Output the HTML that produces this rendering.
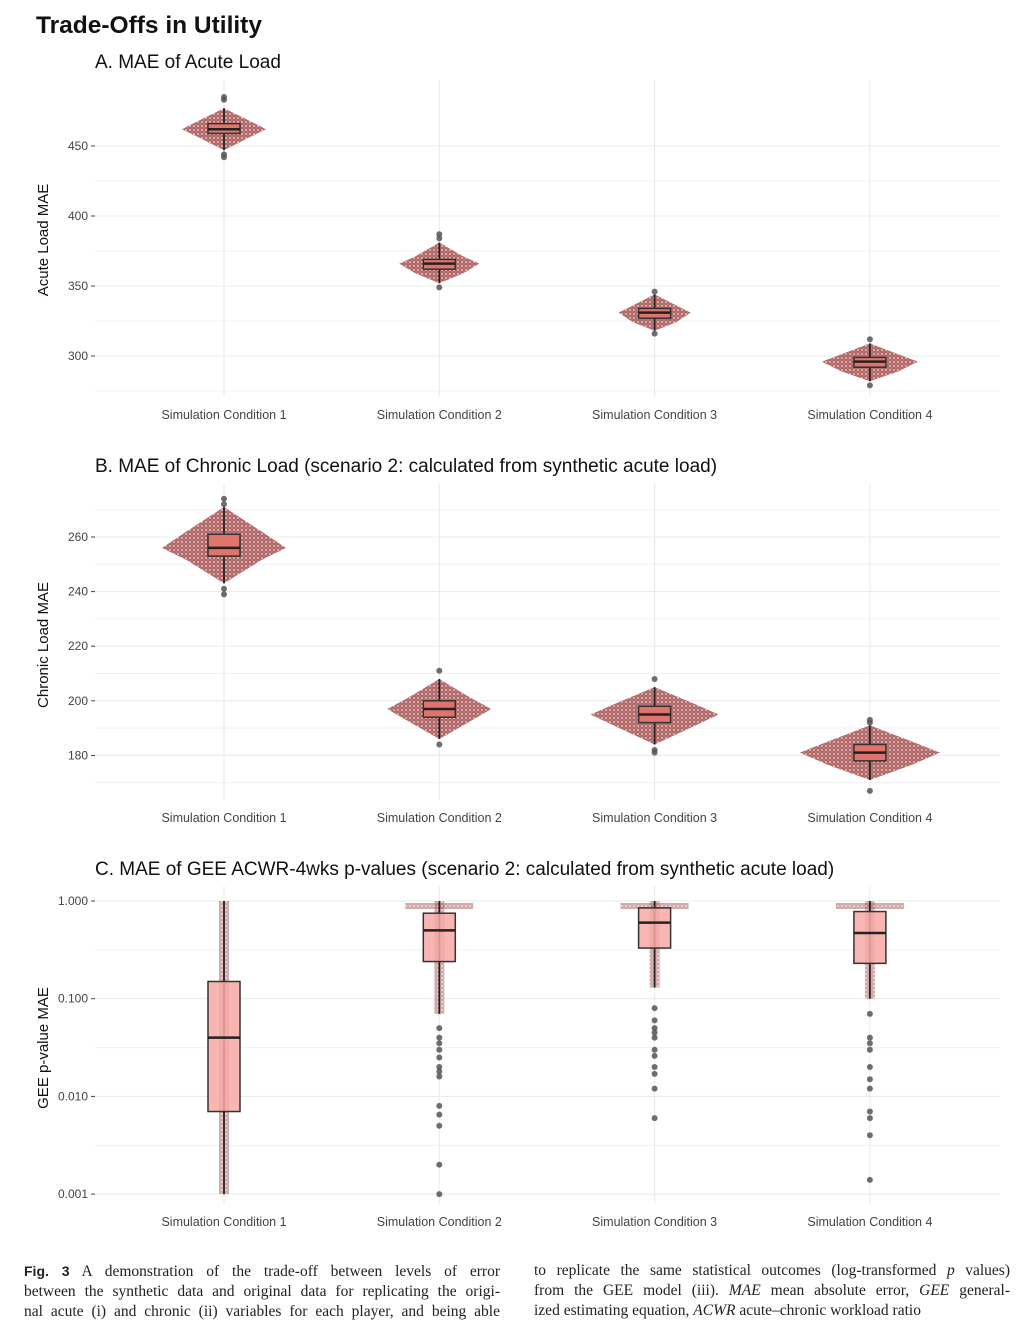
<!DOCTYPE html>
<html><head><meta charset="utf-8">
<style>
body{margin:0;background:#fff;width:1035px;height:1336px;overflow:hidden;font-family:"Liberation Sans",sans-serif}
.cap{position:absolute;font-family:"Liberation Serif",serif;font-size:15.5px;line-height:20px;color:#222}
.cap div{text-align:justify;text-align-last:justify;white-space:nowrap}
</style></head><body>
<svg id="chart" width="1035" height="1250" style="position:absolute;left:0;top:0">
<defs>
<pattern id="dots" width="4" height="4" patternUnits="userSpaceOnUse">
<rect width="4" height="4" fill="#b87070"/>
<circle cx="2" cy="2" r="1.4" fill="#eaaaaa" stroke="#8a4545" stroke-width="0.5"/>
</pattern>
</defs>
<text x="36" y="33" font-size="24.5" font-weight="bold" fill="#111">Trade-Offs in Utility</text>
</svg>
<div class="cap" style="left:24px;top:1261px;width:476px">
<div><b style="font-family:'Liberation Sans',sans-serif;font-size:14px">Fig. 3</b> A demonstration of the trade-off between levels of error</div>
<div>between the synthetic data and original data for replicating the origi-</div>
<div>nal acute (i) and chronic (ii) variables for each player, and being able</div>
</div>
<div class="cap" style="left:534px;top:1261px;width:476px">
<div>to replicate the same statistical outcomes (log-transformed <i>p</i> values)</div>
<div>from the GEE model (iii). <i>MAE</i> mean absolute error, <i>GEE</i> general-</div>
<div style="text-align-last:left">ized estimating equation, <i>ACWR</i> acute–chronic workload ratio</div>
</div>
<script>
const categories=["Simulation Condition 1","Simulation Condition 2","Simulation Condition 3","Simulation Condition 4"];
// Panel A
const aTicks=[300,350,400,450];
const aMed=[462,366,331,296], aQ1=[459,362,327,292], aQ3=[466,369,334,299];
const aLo=[447,352,318,282], aHi=[477,381,344,309];
const aSpread=[42,40,36,48];
const aOut=[[442,444,483,485],[349,384,387],[316,346],[279,312]];
// Panel B
const bTicks=[180,200,220,240,260];
const bMed=[256,197,195,181], bQ1=[253,194,192,178], bQ3=[261,200,198,184];
const bLo=[243,186,184,171], bHi=[271,208,205,191];
const bSpread=[62,52,64,70];
const bOut=[[239,241,272,274],[184,211],[181,182,208],[167,192,193]];
// Panel C (log scale)
const cTicks=[0.001,0.01,0.1,1];
const cTickLabels=["0.001","0.010","0.100","1.000"];
const cMed=[0.04,0.5,0.6,0.47], cQ1=[0.007,0.24,0.33,0.23], cQ3=[0.15,0.75,0.85,0.78];
const cLo=[0.001,0.07,0.13,0.1], cHi=[1,1,1,1];
const cOut=[[],[0.05,0.04,0.035,0.03,0.025,0.02,0.018,0.016,0.008,0.0065,0.005,0.002,0.001],
 [0.08,0.06,0.05,0.045,0.04,0.03,0.026,0.02,0.017,0.012,0.006],
 [0.07,0.04,0.035,0.03,0.02,0.015,0.012,0.007,0.006,0.004,0.0014]];

const svg=document.getElementById('chart');
const NS='http://www.w3.org/2000/svg';
function mk(tag,attrs,parent){const e=document.createElementNS(NS,tag);for(const k in attrs)e.setAttribute(k,attrs[k]);(parent||svg).appendChild(e);return e;}
const X0=95,X1=1000;
const xPos=i=>224+i*215.3;

function panel(o){
  const g=mk('g',{});
  
  
  const t=mk('text',{x:95,y:o.titleY,'font-size':19,fill:'#111'},g);t.textContent=o.title;
  
  
  for(const v of o.minor){const y=o.y(v);const l=mk('line',{x1:X0,x2:X1,y1:y,y2:y,stroke:'#f0f0f0','stroke-width':1},g);
    }
  for(let i=0;i<4;i++){const l=mk('line',{x1:xPos(i),x2:xPos(i),y1:o.top,y2:o.bot,stroke:'#ebebeb','stroke-width':1.1},g);
    }
  o.ticks.forEach((v,k)=>{const y=o.y(v);
    const l=mk('line',{x1:X0,x2:X1,y1:y,y2:y,stroke:'#ebebeb','stroke-width':1.1},g);
    
    mk('line',{x1:91,x2:95,y1:y,y2:y,stroke:'#444'},g);
    const tx=mk('text',{x:88,y:y+4,'font-size':12,fill:'#444','text-anchor':'end'},g);tx.textContent=o.labels?o.labels[k]:v;
    });
  const yt=mk('text',{x:0,y:0,'font-size':15,fill:'#111','text-anchor':'middle',transform:`translate(48,${o.axisMid}) rotate(-90)`},g);
  yt.textContent=o.ytitle;
  categories.forEach((c,i)=>{const tx=mk('text',{x:xPos(i),y:o.bot+22,'font-size':12.5,fill:'#444','text-anchor':'middle'},g);tx.textContent=c;
    });
  for(let i=0;i<4;i++){
    const cx=xPos(i);
    const gg=mk('g',{},g);
    
    
    if(o.spread){
      const s=o.spread[i],ym=o.y(o.med[i]),yl=o.y(o.lo[i]),yh=o.y(o.hi[i]);
      const qa=o.y(o.q3[i]),qb=o.y(o.q1[i]);
      const pts=[[cx,yh],[cx+s*0.6,qa-3],[cx+s,ym],[cx+s*0.6,qb+4],[cx,yl],[cx-s*0.6,qb+4],[cx-s,ym],[cx-s*0.6,qa-3]];
      const p=mk('polygon',{points:pts.map(q=>q.join(',')).join(' '),fill:'url(#dots)',opacity:0.95},gg);
      
    } else {
      const strip=mk('rect',{x:cx-5,y:o.y(o.hi[i]),width:10,height:o.y(o.lo[i])-o.y(o.hi[i]),fill:'url(#dots)',opacity:0.55},gg);
      
      if(i>0){const tp=mk('rect',{x:cx-34,y:o.y(o.hi[i])+2,width:68,height:6,fill:'url(#dots)',opacity:0.55},gg);
        }
    }
    const w=mk('line',{x1:cx,x2:cx,y1:o.y(o.lo[i]),y2:o.y(o.hi[i]),stroke:'#222','stroke-width':1.8},gg);
    
    const r=mk('rect',{x:cx-16,y:o.y(o.q3[i]),width:32,height:o.y(o.q1[i])-o.y(o.q3[i]),fill:o.boxFill,'fill-opacity':o.boxOp,stroke:'#333','stroke-width':1.5},gg);
    
    const m=mk('line',{x1:cx-16,x2:cx+16,y1:o.y(o.med[i]),y2:o.y(o.med[i]),stroke:'#222','stroke-width':2.5},gg);
    
    for(const v of o.out[i]){const c=mk('circle',{cx:cx,cy:o.y(v),r:3,fill:'#555',opacity:0.85},gg);
      }
  }
}
panel({name:'panel-a',title:'A. MAE of Acute Load',titleY:68,top:80,bot:397,y:v=>146-(v-450)*1.4,
  ticks:aTicks,minor:[275,325,375,425],ytitle:'Acute Load MAE',axisMid:240,
  med:aMed,q1:aQ1,q3:aQ3,lo:aLo,hi:aHi,spread:aSpread,out:aOut,boxFill:'#e0746c',boxOp:1});
panel({name:'panel-b',title:'B. MAE of Chronic Load (scenario 2: calculated from synthetic acute load)',titleY:472,top:483,bot:800,y:v=>537-(v-260)*2.73,
  ticks:bTicks,minor:[170,190,210,230,250,270],ytitle:'Chronic Load MAE',axisMid:645,
  med:bMed,q1:bQ1,q3:bQ3,lo:bLo,hi:bHi,spread:bSpread,out:bOut,boxFill:'#e0746c',boxOp:1});
panel({name:'panel-c',title:'C. MAE of GEE ACWR-4wks p-values (scenario 2: calculated from synthetic acute load)',titleY:875,top:886,bot:1204,y:v=>901-Math.log10(v)*97.7,
  ticks:cTicks,labels:cTickLabels,minor:[0.00316,0.0316,0.316],ytitle:'GEE p-value MAE',axisMid:1048,
  med:cMed,q1:cQ1,q3:cQ3,lo:cLo,hi:cHi,spread:null,out:cOut,boxFill:'#f7a9a4',boxOp:0.85});
</script>
</body></html>
